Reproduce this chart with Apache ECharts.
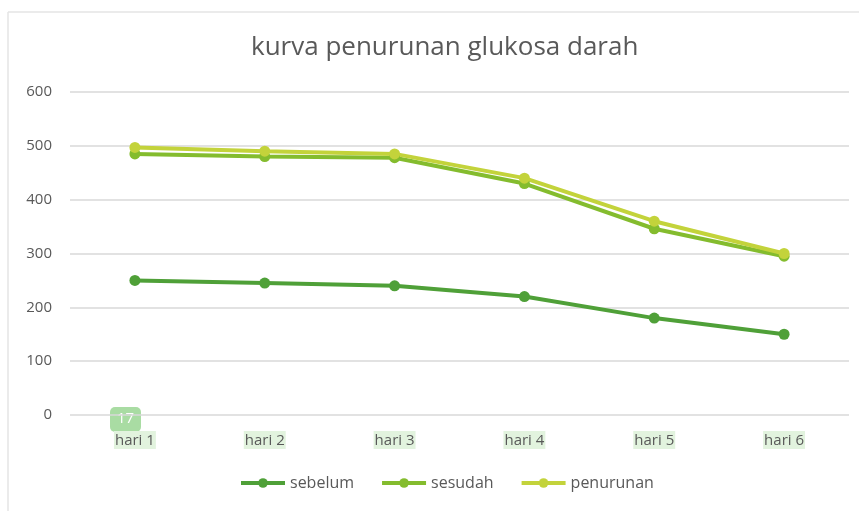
<!DOCTYPE html>
<html>
<head>
<meta charset="utf-8">
<script src="https://cdn.jsdelivr.net/npm/echarts@6/dist/echarts.min.js"></script>
<style>
  html, body { margin: 0; padding: 0; background: #fff; }
  #chart { width: 859px; height: 511px; }
</style>
</head>
<body>
<div id="chart"></div>
<script>
// data
var days = ['hari 1', 'hari 2', 'hari 3', 'hari 4', 'hari 5', 'hari 6']
var sebelum = [250, 245, 240, 220, 180, 150]
var sesudah = [485, 480, 478, 430, 346, 295]
var penurunan = [497, 490, 485, 440, 360, 300]
var seriesNames = ['sebelum', 'sesudah', 'penurunan']
var colors = ['#4fa038', '#84bc2e', '#c3d33b']

var font = '"Open Sans", "Noto Sans", sans-serif'

function mkLine (name, data, color) {
  return {
    name: name,
    type: 'line',
    data: data,
    symbol: 'circle',
    symbolSize: 11,
    lineStyle: { width: 4, color: color },
    itemStyle: { color: color }
  }
}

var dom = echarts.init(document.getElementById('chart'))
var option = {
  animation: false,
  backgroundColor: '#fff',
  textStyle: { fontFamily: font },
  title: {
    text: 'kurva penurunan glukosa darah',
    left: 246,
    top: 30,
    textStyle: { color: '#595959', fontSize: 26, fontWeight: 'normal', fontFamily: font }
  },
  legend: {
    data: seriesNames,
    bottom: 15,
    left: 234,
    itemWidth: 44,
    itemHeight: 12,
    itemGap: 26,
    lineStyle: { width: 4 },
    textStyle: { color: '#595959', fontSize: 16, fontFamily: font }
  },
  grid: { left: 70, right: 10, top: 92, bottom: 96 },
  xAxis: {
    type: 'category',
    data: days,
    axisLine: { show: false },
    axisTick: { show: false },
    axisLabel: {
      color: '#595959',
      fontSize: 15,
      margin: 16,
      backgroundColor: '#e2f3de',
      padding: [2, 1, 1, 1]
    }
  },
  yAxis: {
    type: 'value',
    min: 0,
    max: 600,
    interval: 100,
    axisLine: { show: false },
    axisTick: { show: false },
    axisLabel: { color: '#595959', fontSize: 15, margin: 18 },
    splitLine: { lineStyle: { color: '#d9d9d9', width: 1.5 } }
  },
  graphic: [
    { type: 'line', shape: { x1: 8, y1: 12, x2: 859, y2: 12 }, style: { stroke: '#e4e4e4', lineWidth: 1.5 } },
    { type: 'line', shape: { x1: 8, y1: 12, x2: 8, y2: 511 }, style: { stroke: '#e4e4e4', lineWidth: 1.5 } },
    {
      type: 'group', left: 110, top: 407,
      children: [
        { type: 'rect', shape: { x: 0, y: 0, width: 31, height: 25, r: 5 }, style: { fill: '#a9dca3' } },
        { type: 'text', style: { text: '17', x: 15.5, y: 12, align: 'center', verticalAlign: 'middle', fill: '#fff', fontSize: 15, fontFamily: font } }
      ]
    }
  ],
  series: [
    mkLine(seriesNames[0], sebelum, colors[0]),
    mkLine(seriesNames[1], sesudah, colors[1]),
    mkLine(seriesNames[2], penurunan, colors[2])
  ]
}
dom.setOption(option)
window.addEventListener('resize', function () { dom.resize() })
</script>
</body>
</html>
